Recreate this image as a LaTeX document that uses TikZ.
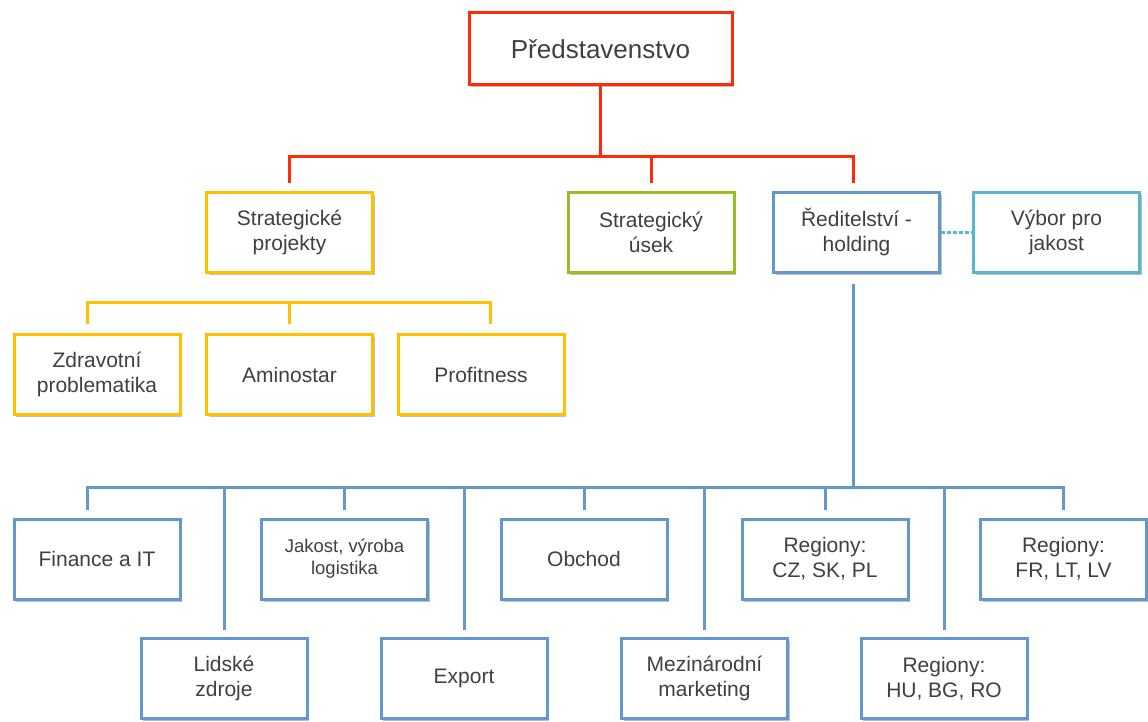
\documentclass[tikz,border=0pt]{standalone}
\usepackage{fontspec}
\setmainfont{Liberation Sans}
\usetikzlibrary{shadows,calc}
\definecolor{cred}{RGB}{255,42,8}
\definecolor{cgold}{RGB}{255,192,0}
\definecolor{cgreen}{RGB}{152,190,38}
\definecolor{cblue}{RGB}{100,152,204}
\definecolor{ccyan}{RGB}{88,182,208}
\definecolor{ctext}{RGB}{64,64,64}
\tikzset{
  box/.style={rectangle, draw, line width=3pt, fill=white, text=ctext, align=center,
    minimum width=166pt, minimum height=80pt, inner sep=2pt,
    font=\fontsize{21}{25}\selectfont,
    drop shadow={shadow xshift=2pt, shadow yshift=-2.5pt, opacity=0.25, fill=black}},
  redbox/.style={box, draw=cred},
  goldbox/.style={box, draw=cgold},
  greenbox/.style={box, draw=cgreen},
  bluebox/.style={box, draw=cblue},
  cyanbox/.style={box, draw=ccyan},
  conn/.style={line width=3pt},
  redline/.style={conn, draw=cred},
  goldline/.style={conn, draw=cgold},
  blueline/.style={conn, draw=cblue},
  cyanline/.style={conn, draw=ccyan, dash pattern=on 3.5pt off 2.5pt},
}
\begin{document}
\begin{tikzpicture}[x=1pt,y=-1pt]
\useasboundingbox (0,0) rectangle (1148,722);
% nodes
\node[redbox, minimum width=263pt, minimum height=72pt, font=\fontsize{26}{30}\selectfont] (top) at (600.5,49) {Představenstvo};
\node[goldbox] (sp) at (289.5,232.5) {Strategické\\projekty};
\node[greenbox] (su) at (651,232.5) {Strategický\\úsek};
\node[bluebox] (hold) at (856.5,232.5) {Ředitelství -\\holding};
\node[cyanbox] (vyb) at (1056.5,232.5) {Výbor pro\\jakost};
\node[goldbox] (zd) at (97,374.5) {Zdravotní\\problematika};
\node[goldbox] (am) at (289.5,374.5) {Aminostar};
\node[goldbox] (pf) at (481,374.5) {Profitness};
\node[bluebox] (fin) at (97,559) {Finance a IT};
\node[bluebox, font=\fontsize{18.5}{22}\selectfont] (jak) at (344.5,559) {Jakost, výroba\\logistika};
\node[bluebox] (obc) at (584,559) {Obchod};
\node[bluebox] (cz) at (825,559) {Regiony:\\CZ, SK, PL};
\node[bluebox] (fr) at (1063.5,559) {Regiony:\\FR, LT, LV};
\node[bluebox] (lid) at (224,678.5) {Lidské\\zdroje};
\node[bluebox] (exp) at (464,678.5) {Export};
\node[bluebox] (mez) at (704.5,678.5) {Mezinárodní\\marketing};
\node[bluebox] (hu) at (944,678.5) {Regiony:\\HU, BG, RO};
% red connectors
\coordinate (rb) at (601,157);
\draw[redline] (top.south) -- (top.south |- rb);
\draw[redline] ([yshift=8pt]sp.north) |- ([xshift=-3.5pt]hold.north |- rb) -- ([xshift=-3.5pt,yshift=8pt]hold.north);
\draw[redline] (su.north |- rb) -- ([yshift=8pt]su.north);
% gold connectors
\coordinate (yb) at (0,302);
\draw[goldline] ([xshift=-10pt,yshift=9pt]zd.north) |- ([xshift=9pt]pf.north |- yb) -- ([xshift=9pt,yshift=9pt]pf.north);
\draw[goldline] (am.north |- yb) -- ([yshift=9pt]am.north);
% cyan dotted
\draw[cyanline] (hold.east) -- (vyb.west);
% blue connectors
\coordinate (bb) at (853,487);
\draw[blueline] ([xshift=-3.5pt,yshift=-10pt]hold.south) -- ([xshift=-3.5pt]hold.south |- bb);
\draw[blueline] ([xshift=-10pt,yshift=8pt]fin.north) |- (fr.north |- bb) -- ([yshift=8pt]fr.north);
\foreach \n in {jak,obc,cz}
  \draw[blueline] (\n.north |- bb) -- ([yshift=8pt]\n.north);
\foreach \n in {lid,exp,mez,hu}
  \draw[blueline] (\n.north |- bb) -- ([yshift=7pt]\n.north);
\end{tikzpicture}
\end{document}
